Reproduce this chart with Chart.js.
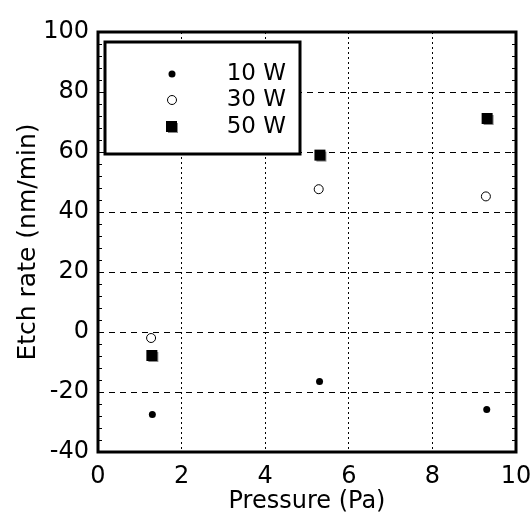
<!DOCTYPE html>
<html>
<head>
<meta charset="utf-8">
<script src="https://cdn.jsdelivr.net/npm/chart.js@4/dist/chart.umd.min.js"></script>
<style>
  html, body { margin: 0; padding: 0; background: #fff; }
  #wrap { width: 531px; height: 522px; }
</style>
</head>
<body>
<div id="wrap"><canvas id="etch"></canvas></div>
<script>
// values
const seriesNames = ['10 W', '30 W', '50 W']
const pressure10 = [1.3, 5.3, 9.3]
const etch10 = [-27.5, -16.5, -25.8]
const pressure30 = [1.27, 5.28, 9.28]
const etch30 = [-2, 47.6, 45.2]
const pressure50 = [1.3, 5.32, 9.32]
const etch50 = [-8, 58.8, 71]

const xTicks = [0, 2, 4, 6, 8, 10]
const yTicks = [-40, -20, 0, 20, 40, 60, 80, 100]
const yMinor = 4

const FONT = "'DejaVu Sans', Verdana, sans-serif"

// the 50 W marker: black square with a grey outline behind it
function squareMarker() {
  const c = document.createElement('canvas')
  c.width = 14; c.height = 14
  const g = c.getContext('2d')
  g.strokeStyle = '#888'
  g.lineWidth = 1
  g.strokeRect(3.5, 3.5, 9, 9)
  g.fillStyle = '#000'
  g.fillRect(1, 1, 11, 11)
  return c
}
const sq = squareMarker()

function toPoints(xs, ys) {
  return xs.map((x, i) => ({x: x, y: ys[i]}))
}

const framePlugin = {
  id: 'frame',
  afterDatasetsDraw(chart) {
    const {ctx, chartArea: a, scales} = chart
    const ys = scales.y
    ctx.save()
    // minor ticks on left and right
    ctx.strokeStyle = '#000'
    ctx.lineWidth = 1
    ctx.beginPath()
    for (let v = yTicks[0]; v <= yTicks[yTicks.length - 1]; v += yMinor) {
      const py = Math.round(ys.getPixelForValue(v)) + 0.5
      ctx.moveTo(a.left, py); ctx.lineTo(a.left + 4, py)
      ctx.moveTo(a.right, py); ctx.lineTo(a.right - 4, py)
    }
    ctx.stroke()

    // legend box
    const lx = 105, ly = 42, lw = 195, lh = 112
    ctx.fillStyle = '#fff'
    ctx.fillRect(lx, ly, lw, lh)
    ctx.lineWidth = 3
    ctx.strokeRect(lx, ly, lw, lh)
    const mx = 172
    const rows = [74, 100, 127]
    ctx.fillStyle = '#000'
    ctx.font = '23px ' + FONT
    ctx.textAlign = 'right'
    ctx.textBaseline = 'middle'
    rows.forEach((ry, i) => {
      ctx.fillText(seriesNames[i], 286, ry)
    })
    ctx.beginPath(); ctx.arc(mx, rows[0], 3.5, 0, Math.PI * 2); ctx.fill()
    ctx.lineWidth = 1
    ctx.beginPath(); ctx.arc(mx, rows[1], 4.5, 0, Math.PI * 2); ctx.stroke()
    ctx.drawImage(sq, mx - 7, rows[2] - 7)

    // frame
    ctx.lineWidth = 3
    ctx.strokeRect(a.left, a.top, a.right - a.left, a.bottom - a.top)
    ctx.restore()
  }
}

new Chart(document.getElementById('etch'), {
  type: 'scatter',
  plugins: [framePlugin],
  data: {
    datasets: [
      {
        label: seriesNames[0],
        data: toPoints(pressure10, etch10),
        pointStyle: 'circle',
        pointRadius: 3.5,
        backgroundColor: '#000',
        borderColor: '#000',
        borderWidth: 0
      },
      {
        label: seriesNames[1],
        data: toPoints(pressure30, etch30),
        pointStyle: 'circle',
        pointRadius: 4.5,
        backgroundColor: '#fff',
        borderColor: '#000',
        borderWidth: 1
      },
      {
        label: seriesNames[2],
        data: toPoints(pressure50, etch50),
        pointStyle: sq
      }
    ]
  },
  options: {
    responsive: true,
    maintainAspectRatio: false,
    animation: false,
    layout: { padding: { top: 32, right: 15, left: 0, bottom: 0 } },
    plugins: {
      legend: { display: false },
      tooltip: { enabled: false }
    },
    scales: {
      x: {
        type: 'linear',
        min: xTicks[0],
        max: xTicks[xTicks.length - 1],
        afterBuildTicks: s => { s.ticks = xTicks.map(v => ({value: v})) },
        afterFit: s => { s.height = 70; s.paddingLeft = 0; s.paddingRight = 0 },
        ticks: { color: '#000', padding: 10, font: { family: FONT, size: 24 }, maxRotation: 0 },
        grid: { color: '#000', lineWidth: 1, drawTicks: false },
        border: { display: false, dash: [2, 3] },
        title: {
          display: true,
          text: 'Pressure (Pa)',
          color: '#000',
          font: { family: FONT, size: 24 },
          padding: { top: 0, bottom: 6 }
        }
      },
      y: {
        type: 'linear',
        min: yTicks[0],
        max: yTicks[yTicks.length - 1],
        afterBuildTicks: s => { s.ticks = yTicks.map(v => ({value: v})) },
        afterFit: s => { s.width = 98; s.paddingTop = 0; s.paddingBottom = 0 },
        ticks: { color: '#000', padding: 9, font: { family: FONT, size: 24 } },
        grid: { color: '#000', lineWidth: 1, drawTicks: false },
        border: { display: false, dash: [6, 5] },
        title: {
          display: true,
          text: 'Etch rate (nm/min)',
          color: '#000',
          font: { family: FONT, size: 25 },
          padding: { top: 13, bottom: 0 }
        }
      }
    }
  }
})
</script>
</body>
</html>
